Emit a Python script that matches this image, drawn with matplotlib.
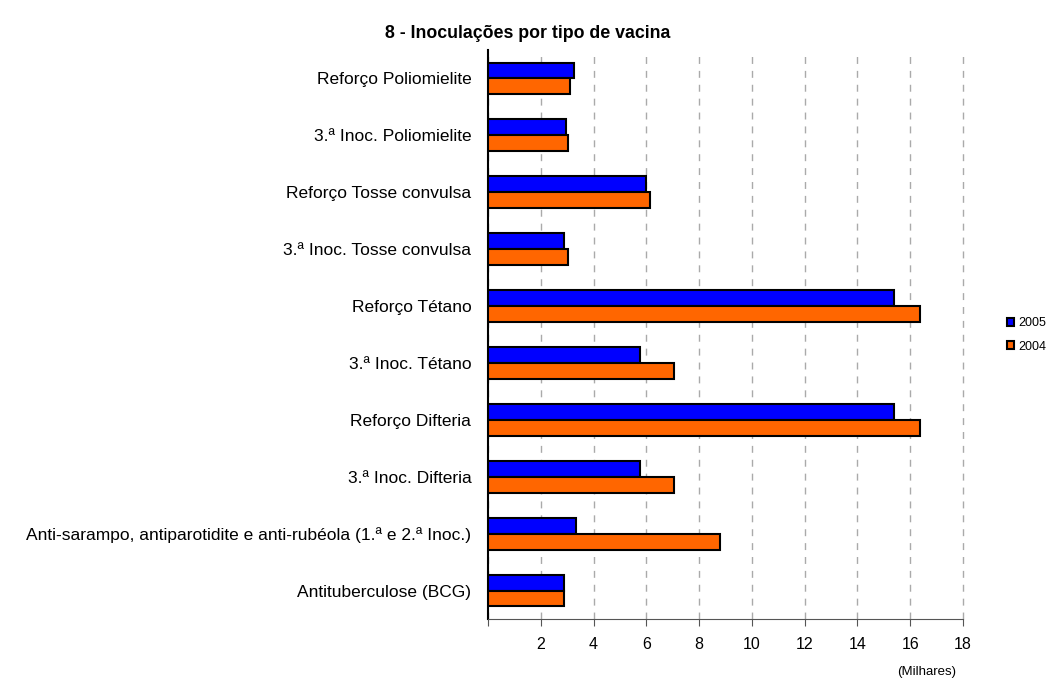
import matplotlib.pyplot as plt
import numpy as np

plt.rcParams['font.family'] = ['Liberation Sans', 'DejaVu Sans']

categories = ['Reforço Poliomielite', '3.ª Inoc. Poliomielite', 'Reforço Tosse convulsa',
              '3.ª Inoc. Tosse convulsa', 'Reforço Tétano', '3.ª Inoc. Tétano',
              'Reforço Difteria', '3.ª Inoc. Difteria',
              'Anti-sarampo, antiparotidite e anti-rubéola (1.ª e 2.ª Inoc.)',
              'Antituberculose (BCG)']
v2005 = [3.27, 2.97, 5.98, 2.89, 15.39, 5.77, 15.39, 5.77, 3.34, 2.89]
v2004 = [3.10, 3.05, 6.15, 3.03, 16.37, 7.05, 16.37, 7.05, 8.79, 2.88]
xticks = [2, 4, 6, 8, 10, 12, 14, 16, 18]

fig = plt.figure(figsize=(10.56, 6.78), dpi=100)
ax = fig.add_axes([488 / 1056, 1 - 619 / 678, 475 / 1056, 569 / 678])

y = np.arange(len(categories))
h = 0.28
ax.barh(y - h / 2, v2005, height=h, color='#0000FF', edgecolor='black', linewidth=1.5,
        label='2005', zorder=3)
ax.barh(y + h / 2, v2004, height=h, color='#FF6600', edgecolor='black', linewidth=1.5,
        label='2004', zorder=3)

ax.set_ylim(len(categories) - 0.5, -0.5)
ax.set_xlim(0, 18)
ax.set_yticks(y)
ax.set_yticklabels(categories, fontsize=12.5)
ax.tick_params(axis='y', length=0, pad=12)
ax.set_xticks([0] + xticks)
ax.set_xticklabels([''] + [str(t) for t in xticks], fontsize=11.5)
ax.tick_params(axis='x', direction='out', length=5, color='#555555', pad=8)
ax.xaxis.grid(True, linestyle=(0, (5, 5)), color='#AAAAAA', linewidth=1, zorder=0)
for gl in ax.get_xgridlines():
    gl.set_clip_on(False)
ax.spines['top'].set_visible(False)
ax.spines['right'].set_visible(False)
ax.spines['bottom'].set_color('#555555')
ax.spines['left'].set_linewidth(1.5)

fig.text(528 / 1056, 1 - 34 / 678, '8 - Inoculações por tipo de vacina', ha='center',
         va='center', fontsize=12.8, fontweight='bold')
fig.text(927 / 1056, 1 - 672 / 678, '(Milhares)', ha='center', va='center', fontsize=9.5)

fig.legend(loc='center left', bbox_to_anchor=(998 / 1056, 1 - 335 / 678), frameon=False,
           fontsize=9, handlelength=0.6, handleheight=0.6, labelspacing=0.9,
           handletextpad=0.35, borderpad=0.2)

fig.savefig('out.png', dpi=100)
